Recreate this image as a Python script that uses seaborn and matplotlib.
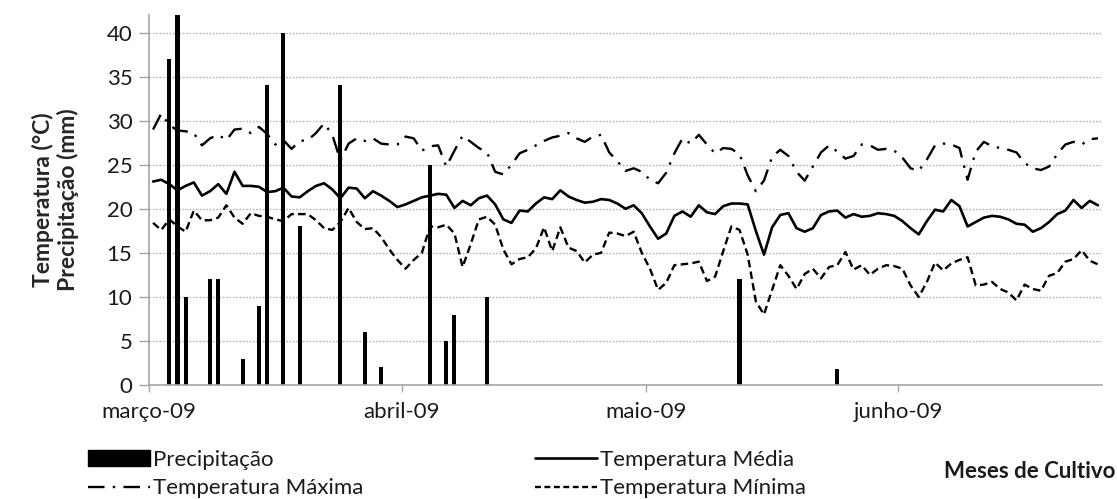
import numpy as np
import pandas as pd
import matplotlib
matplotlib.use("Agg")
import matplotlib.pyplot as plt
import seaborn as sns
from matplotlib.patches import Patch
from matplotlib.lines import Line2D

# ---------------- data ----------------
month_ticks = [0, 31, 61, 92]
month_labels = ["março-09", "abril-09", "maio-09", "junho-09"]

rain_days = [2, 3, 4, 7, 8, 11, 13, 14, 16, 18, 23, 26, 28, 34, 36, 37, 41, 72, 84]
rain_mm = [37, 44, 10, 12, 12, 3, 9, 34, 40, 18, 34, 6, 2, 25, 5, 8, 10, 12, 1.8]

t_media = [
    23.1, 23.3, 22.8, 22.1, 22.6, 23.0, 21.5, 22.0, 22.8, 21.7,
    24.2, 22.6, 22.6, 22.5, 21.9, 22.0, 22.4, 21.4, 21.3, 22.0,
    22.6, 22.9, 22.2, 21.2, 22.4, 22.3, 21.2, 22.0, 21.5, 20.9,
    20.2, 20.5, 20.9, 21.3, 21.5, 21.7, 21.6, 20.1, 20.9, 20.4,
    21.2, 21.5, 20.5, 18.8, 18.4, 19.8, 19.7, 20.6, 21.3, 21.1,
    22.1, 21.4, 21.0, 20.7, 20.8, 21.1, 21.0, 20.6, 20.0, 20.4,
    19.5, 18.0, 16.6, 17.2, 19.2, 19.7, 19.1, 20.4, 19.6, 19.4,
    20.3, 20.6, 20.6, 20.5, 17.5, 14.8, 17.9, 19.3, 19.5, 17.8,
    17.4, 17.8, 19.3, 19.7, 19.8, 19.0, 19.4, 19.1, 19.2, 19.5,
    19.4, 19.2, 18.6, 17.8, 17.1, 18.6, 19.9, 19.7, 21.0, 20.3,
    18.0, 18.5, 19.0, 19.2, 19.1, 18.8, 18.3, 18.2, 17.4, 17.8,
    18.5, 19.4, 19.8, 21.0, 20.1, 20.9, 20.4,
]

t_min = [
    18.4, 17.6, 18.8, 18.0, 17.4, 19.8, 18.7, 18.7, 19.0, 20.4,
    19.0, 18.3, 19.5, 19.2, 19.1, 18.8, 18.6, 19.4, 19.4, 19.4,
    18.7, 17.8, 17.6, 18.5, 20.1, 18.5, 17.7, 17.8, 16.8, 15.4,
    14.2, 13.2, 14.2, 15.0, 18.0, 17.9, 18.2, 17.2, 13.4, 16.0,
    18.8, 19.1, 18.2, 15.4, 13.7, 14.3, 14.5, 15.5, 17.9, 15.2,
    17.9, 15.6, 15.2, 13.9, 14.8, 15.0, 17.3, 17.2, 16.9, 17.4,
    15.0, 13.2, 10.8, 11.6, 13.6, 13.7, 13.8, 14.0, 11.8, 12.3,
    15.2, 18.0, 17.6, 14.8, 9.5, 8.0, 10.8, 13.6, 12.4, 10.9,
    12.6, 13.2, 12.1, 13.4, 13.6, 15.1, 13.1, 13.6, 12.5, 13.2,
    13.6, 13.5, 13.2, 11.3, 10.0, 11.7, 13.9, 13.0, 13.8, 14.2,
    14.5, 11.3, 11.4, 11.7, 10.9, 10.5, 9.6, 11.4, 10.9, 10.7,
    12.4, 12.7, 14.0, 14.3, 15.3, 14.1, 13.7,
]

t_max = [
    29.0, 30.8, 29.5, 28.9, 28.8, 28.6, 27.2, 28.0, 28.4, 27.8,
    29.0, 29.1, 28.6, 29.3, 28.5, 27.3, 27.8, 26.8, 27.7, 27.8,
    28.6, 29.7, 28.4, 25.5, 27.4, 28.0, 27.7, 28.0, 27.4, 27.3,
    27.3, 28.2, 28.0, 26.6, 27.1, 27.2, 24.8, 26.6, 28.3, 27.6,
    26.9, 26.4, 24.2, 23.9, 25.0, 26.3, 26.7, 27.2, 27.7, 28.1,
    28.3, 28.6, 28.0, 27.6, 28.2, 28.4, 26.4, 25.4, 24.3, 24.6,
    24.2, 23.3, 22.9, 24.1, 26.3, 28.0, 27.4, 28.4, 27.3, 26.3,
    26.9, 26.8, 26.2, 23.8, 22.0, 23.2, 25.9, 26.7, 26.0, 24.2,
    23.2, 24.8, 26.4, 27.2, 26.5, 25.7, 26.0, 27.3, 27.2, 26.7,
    26.8, 26.6, 25.8, 24.6, 24.3, 25.6, 27.2, 27.4, 27.3, 26.9,
    23.3, 26.5, 27.6, 27.1, 26.9, 26.7, 26.4, 25.2, 24.6, 24.4,
    24.8, 26.2, 27.3, 27.6, 27.3, 27.9, 28.0,
]

n_days = len(t_media)
day = np.arange(n_days)
precip = np.zeros(n_days)
for d, v in zip(rain_days, rain_mm):
    precip[d] = v

df = pd.DataFrame({
    "x": day + 0.5,
    "precip": precip,
    "media": t_media,
    "min": t_min,
    "max": t_max,
})

# ---------------- style ----------------
sns.set_theme(style="white")
FONT = ["Lato", "DejaVu Sans"]
plt.rcParams["font.family"] = FONT
plt.rcParams["text.color"] = "#1a1a1a"

W, H = 1117, 499
fig = plt.figure(figsize=(W / 100, H / 100), dpi=100)
ax = fig.add_axes([149 / W, 1 - 385 / H, (1102 - 149) / W, (385 - 15) / H])

# grid
for y in range(5, 45, 5):
    ax.axhline(y, color="#b3b3b3", lw=1.0, linestyle=(0, (1.2, 1.2)), zorder=0)

sns.barplot(data=df, x="x", y="precip", native_scale=True, width=0.5,
            color="black", saturation=1, ax=ax, zorder=2, linewidth=0)

MAX_LS = (0, (7, 3.5, 1, 3.5))
MIN_LS = (0, (3.2, 1.8))
sns.lineplot(data=df, x="x", y="max", color="black", lw=1.7,
             linestyle=MAX_LS, ax=ax, zorder=3)
sns.lineplot(data=df, x="x", y="media", color="black", lw=1.9,
             linestyle="-", ax=ax, zorder=3)
sns.lineplot(data=df, x="x", y="min", color="black", lw=1.7,
             linestyle=MIN_LS, ax=ax, zorder=3)

ax.set_xlim(0, n_days)
ax.set_ylim(0, 42)
ax.set_yticks(range(0, 45, 5))
ax.set_xticks(month_ticks)
ax.set_xticklabels(month_labels)
ax.tick_params(axis="y", which="both", length=7, width=1, color="#a6a6a6",
               labelsize=16, pad=5, left=True, labelcolor="#1a1a1a")
ax.tick_params(axis="x", which="both", length=5, width=1, color="#a6a6a6",
               labelsize=16, pad=7, bottom=True, labelcolor="#1a1a1a")
for s in ["top", "right"]:
    ax.spines[s].set_visible(False)
for s in ["left", "bottom"]:
    ax.spines[s].set_color("#a6a6a6")
    ax.spines[s].set_linewidth(1.2)
ax.set_xlabel("")
ax.set_ylabel("Temperatura (°C)\nPrecipitação (mm)", fontsize=16.5,
              fontweight="bold", labelpad=20, linespacing=1.15)

# legends
h_prec = Patch(facecolor="black", edgecolor="black", label="Precipitação")
h_max = Line2D([], [], color="black", lw=1.7, linestyle=MAX_LS,
               label="Temperatura Máxima")
h_med = Line2D([], [], color="black", lw=1.9, linestyle="-",
               label="Temperatura Média")
h_min = Line2D([], [], color="black", lw=1.7, linestyle=(0, (2.5, 1.5)),
               label="Temperatura Mínima")

leg_kw = dict(loc="upper left", frameon=False, borderpad=0, borderaxespad=0,
              fontsize=16, handlelength=2.8, handleheight=0.75,
              handletextpad=0.12, labelspacing=0.38)
leg1 = fig.legend(handles=[h_prec, h_max], bbox_to_anchor=(88 / W, 1 - 450 / H),
                  **leg_kw)
leg2 = fig.legend(handles=[h_med, h_min], bbox_to_anchor=(535 / W, 1 - 450 / H),
                  **leg_kw)

fig.text(1115 / W, 1 - 471 / H, "Meses de Cultivo", ha="right", va="center",
         fontsize=16, fontweight="bold")

fig.savefig("out.png", dpi=100, facecolor="white")
